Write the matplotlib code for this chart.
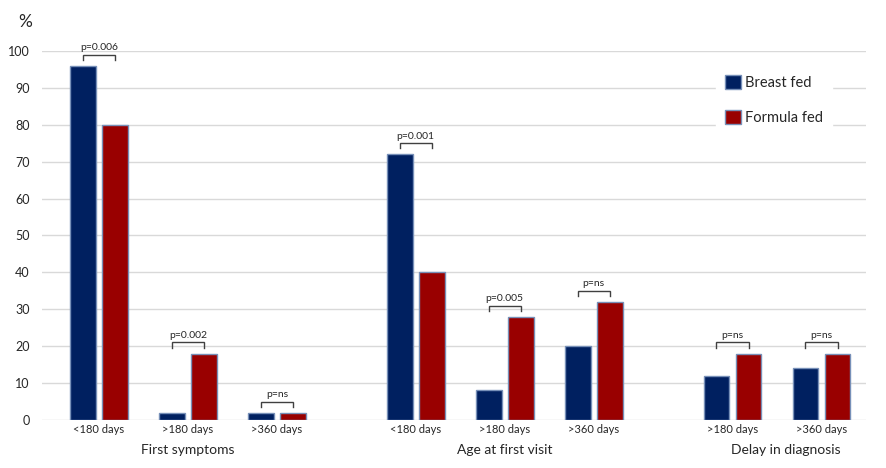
import numpy as np
import matplotlib.pyplot as plt
from matplotlib.transforms import blended_transform_factory

plt.rcParams['font.family'] = ['Lato', 'DejaVu Sans']

# data
groups = ['First symptoms', 'Age at first visit', 'Delay in diagnosis']
categories = [['<180 days', '>180 days', '>360 days'],
              ['<180 days', '>180 days', '>360 days'],
              ['>180 days', '>360 days']]
breast_fed = [96, 2, 2, 72, 8, 20, 12, 14]
formula_fed = [80, 18, 2, 40, 28, 32, 18, 18]
p_values = ['p=0.006', 'p=0.002', 'p=ns',
            'p=0.001', 'p=0.005', 'p=ns',
            'p=ns', 'p=ns']
yticks = list(range(0, 101, 10))

BLUE = '#002060'
RED = '#990000'
EDGE = '#7790B8'
TXT = '#262626'

# category positions: one unit per category, extra gap between groups
group_gap = 1.56
xpos = []
start = 0.0
group_centers = []
for cats in categories:
    pos = [start + i for i in range(len(cats))]
    xpos += pos
    group_centers.append(np.mean(pos))
    start = pos[-1] + group_gap
xpos = np.array(xpos)
group_centers[2] += 0.1

fig = plt.figure(figsize=(8.86, 4.68), dpi=100)
ax = fig.add_axes([0.0474, 0.1026, 0.930, 0.7884])

w = 0.29
off = 0.18
ax.bar(xpos - off, breast_fed, w, color=BLUE, edgecolor=EDGE, linewidth=1, label='Breast fed', zorder=3)
ax.bar(xpos + off, formula_fed, w, color=RED, edgecolor=EDGE, linewidth=1, label='Formula fed', zorder=3)

# significance brackets
for x, b, f, p in zip(xpos, breast_fed, formula_fed, p_values):
    top = max(b, f) + 3
    ax.plot([x - off, x - off, x + off, x + off], [top - 1.4, top, top, top - 1.4],
            color='#404040', lw=1, zorder=4, solid_joinstyle='miter')
    ax.text(x, top + 0.7, p, ha='center', va='bottom', fontsize=7.5, color=TXT)

ax.set_ylim(0, 100)
ax.set_xlim(-0.64, 8.62)
ax.set_yticks(yticks)
ax.set_xticks(xpos)
ax.set_xticklabels([c for cats in categories for c in cats], fontsize=8, color=TXT)
ax.tick_params(axis='x', length=0, pad=3)
ax.tick_params(axis='y', length=0, pad=9, labelsize=9, labelcolor=TXT)
ax.grid(axis='y', color='#D9D9D9', lw=1, zorder=0)
for s in ax.spines.values():
    s.set_visible(False)

trans = blended_transform_factory(ax.transData, ax.transAxes)
for gx, g in zip(group_centers, groups):
    ax.text(gx, -0.065, g, transform=trans, ha='center', va='top', fontsize=10, color=TXT)

fig.text(18 / 886, 1 - 22 / 468, '%', fontsize=12.5, color=TXT, va='center', ha='left')

ax.legend(loc='center', bbox_to_anchor=(774 / 886, 1 - 100 / 468), bbox_transform=fig.transFigure,
          fontsize=10.5, frameon=True, facecolor='white', edgecolor='white', framealpha=1,
          handlelength=1.1, handleheight=1.1, handletextpad=0.3, labelspacing=1.4,
          borderpad=0.6, labelcolor=TXT)

plt.savefig('out.png', dpi=100)
